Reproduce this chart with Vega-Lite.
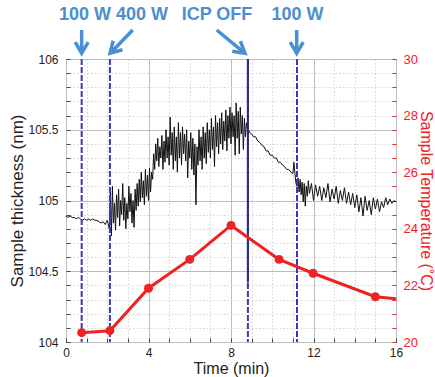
{
  "$schema": "https://vega.github.io/schema/vega-lite/v6.json",
  "width": 330,
  "height": 283,
  "autosize": "none",
  "padding": {"left": 66, "top": 59, "right": 39, "bottom": 35},
  "background": "white",
  "config": {
    "font": "Liberation Sans",
    "view": {"stroke": "#222222", "strokeWidth": 1},
    "axis": {"labelFont": "Liberation Sans", "titleFont": "Liberation Sans", "labelColor": "#222222", "titleColor": "#222222", "titleFontWeight": "normal", "labelFontSize": 12, "titleFontSize": 16, "labelOverlap": false}
  },
  "datasets": {
    "thick": [
      {"t": 0.0, "v": 104.89}, {"t": 0.1, "v": 104.88}, {"t": 0.2, "v": 104.89}, {"t": 0.3, "v": 104.88}, {"t": 0.4, "v": 104.88},
      {"t": 0.5, "v": 104.87}, {"t": 0.6, "v": 104.88}, {"t": 0.7, "v": 104.87}, {"t": 0.8, "v": 104.86}, {"t": 0.9, "v": 104.87},
      {"t": 1.0, "v": 104.86}, {"t": 1.1, "v": 104.87}, {"t": 1.2, "v": 104.86}, {"t": 1.3, "v": 104.87}, {"t": 1.4, "v": 104.86},
      {"t": 1.5, "v": 104.86}, {"t": 1.6, "v": 104.85}, {"t": 1.7, "v": 104.84}, {"t": 1.8, "v": 104.85}, {"t": 1.9, "v": 104.83},
      {"t": 2.0, "v": 104.86},
      {"t": 2.10, "v": 104.80}, {"t": 2.15, "v": 105.06}, {"t": 2.20, "v": 104.75}, {"t": 2.25, "v": 105.10}, {"t": 2.30, "v": 104.84},
      {"t": 2.35, "v": 104.98}, {"t": 2.40, "v": 104.79}, {"t": 2.45, "v": 105.04}, {"t": 2.50, "v": 104.88}, {"t": 2.55, "v": 105.08},
      {"t": 2.60, "v": 104.82}, {"t": 2.65, "v": 105.00}, {"t": 2.70, "v": 104.90}, {"t": 2.75, "v": 105.12}, {"t": 2.80, "v": 104.86},
      {"t": 2.85, "v": 105.02}, {"t": 2.90, "v": 104.80}, {"t": 2.95, "v": 104.98}, {"t": 3.00, "v": 104.87}, {"t": 3.05, "v": 105.10},
      {"t": 3.10, "v": 104.92}, {"t": 3.15, "v": 105.05}, {"t": 3.20, "v": 104.84}, {"t": 3.25, "v": 105.00}, {"t": 3.30, "v": 104.81},
      {"t": 3.35, "v": 105.08}, {"t": 3.40, "v": 104.93}, {"t": 3.45, "v": 105.12}, {"t": 3.50, "v": 104.96}, {"t": 3.55, "v": 105.15},
      {"t": 3.60, "v": 104.99}, {"t": 3.65, "v": 105.20}, {"t": 3.70, "v": 105.02}, {"t": 3.75, "v": 105.14}, {"t": 3.80, "v": 104.97},
      {"t": 3.85, "v": 105.22}, {"t": 3.90, "v": 105.03}, {"t": 3.95, "v": 105.18}, {"t": 4.00, "v": 105.00}, {"t": 4.05, "v": 105.23},
      {"t": 4.10, "v": 105.06}, {"t": 4.15, "v": 105.20}, {"t": 4.20, "v": 105.15}, {"t": 4.25, "v": 105.33}, {"t": 4.30, "v": 105.22},
      {"t": 4.35, "v": 105.40}, {"t": 4.40, "v": 105.28}, {"t": 4.45, "v": 105.44}, {"t": 4.50, "v": 105.24}, {"t": 4.55, "v": 105.38},
      {"t": 4.60, "v": 105.30}, {"t": 4.65, "v": 105.46}, {"t": 4.70, "v": 105.22}, {"t": 4.75, "v": 105.42}, {"t": 4.80, "v": 105.27},
      {"t": 4.85, "v": 105.50}, {"t": 4.90, "v": 105.30}, {"t": 4.95, "v": 105.45}, {"t": 5.00, "v": 105.25}, {"t": 5.05, "v": 105.59},
      {"t": 5.10, "v": 105.32}, {"t": 5.15, "v": 105.48}, {"t": 5.20, "v": 105.22}, {"t": 5.25, "v": 105.52}, {"t": 5.30, "v": 105.28},
      {"t": 5.35, "v": 105.45}, {"t": 5.40, "v": 105.20}, {"t": 5.45, "v": 105.55}, {"t": 5.50, "v": 105.30}, {"t": 5.55, "v": 105.48},
      {"t": 5.60, "v": 105.25}, {"t": 5.65, "v": 105.52}, {"t": 5.70, "v": 105.33}, {"t": 5.75, "v": 105.47}, {"t": 5.80, "v": 105.28},
      {"t": 5.85, "v": 105.50}, {"t": 5.90, "v": 105.16}, {"t": 5.95, "v": 105.42}, {"t": 6.00, "v": 105.30}, {"t": 6.05, "v": 105.48},
      {"t": 6.10, "v": 105.22}, {"t": 6.15, "v": 105.44}, {"t": 6.20, "v": 105.18}, {"t": 6.25, "v": 105.40}, {"t": 6.30, "v": 104.97},
      {"t": 6.35, "v": 105.38}, {"t": 6.40, "v": 105.25}, {"t": 6.45, "v": 105.50}, {"t": 6.50, "v": 105.28}, {"t": 6.55, "v": 105.45},
      {"t": 6.60, "v": 105.22}, {"t": 6.65, "v": 105.52}, {"t": 6.70, "v": 105.30}, {"t": 6.75, "v": 105.48}, {"t": 6.80, "v": 105.26},
      {"t": 6.85, "v": 105.55}, {"t": 6.90, "v": 105.34}, {"t": 6.95, "v": 105.50}, {"t": 7.00, "v": 105.30}, {"t": 7.05, "v": 105.58},
      {"t": 7.10, "v": 105.36}, {"t": 7.15, "v": 105.52}, {"t": 7.20, "v": 105.24}, {"t": 7.25, "v": 105.60}, {"t": 7.30, "v": 105.38},
      {"t": 7.35, "v": 105.55}, {"t": 7.40, "v": 105.33}, {"t": 7.45, "v": 105.58}, {"t": 7.50, "v": 105.40}, {"t": 7.55, "v": 105.62},
      {"t": 7.60, "v": 105.36}, {"t": 7.65, "v": 105.56}, {"t": 7.70, "v": 105.42}, {"t": 7.75, "v": 105.64}, {"t": 7.80, "v": 105.35},
      {"t": 7.85, "v": 105.60}, {"t": 7.90, "v": 105.44}, {"t": 7.95, "v": 105.66}, {"t": 8.00, "v": 105.40}, {"t": 8.05, "v": 105.62},
      {"t": 8.10, "v": 105.45}, {"t": 8.15, "v": 105.60}, {"t": 8.20, "v": 105.32}, {"t": 8.25, "v": 105.69}, {"t": 8.30, "v": 105.44},
      {"t": 8.35, "v": 105.63}, {"t": 8.40, "v": 105.33}, {"t": 8.45, "v": 105.66}, {"t": 8.50, "v": 105.47}, {"t": 8.55, "v": 105.60},
      {"t": 8.60, "v": 105.36}, {"t": 8.65, "v": 105.58}, {"t": 8.70, "v": 105.45}, {"t": 8.75, "v": 105.55}, {"t": 8.80, "v": 105.50},
      {"t": 8.85, "v": 105.50}, {"t": 8.9, "v": 105.48}, {"t": 9.0, "v": 105.47}, {"t": 9.1, "v": 105.45}, {"t": 9.2, "v": 105.45},
      {"t": 9.3, "v": 105.42}, {"t": 9.4, "v": 105.41}, {"t": 9.5, "v": 105.39}, {"t": 9.6, "v": 105.38}, {"t": 9.7, "v": 105.35},
      {"t": 9.8, "v": 105.35}, {"t": 9.9, "v": 105.32}, {"t": 10.0, "v": 105.32}, {"t": 10.1, "v": 105.30}, {"t": 10.2, "v": 105.30},
      {"t": 10.3, "v": 105.27}, {"t": 10.4, "v": 105.27}, {"t": 10.5, "v": 105.25}, {"t": 10.6, "v": 105.24}, {"t": 10.7, "v": 105.22},
      {"t": 10.8, "v": 105.22}, {"t": 10.9, "v": 105.20}, {"t": 11.0, "v": 105.19}, {"t": 11.05, "v": 105.27}, {"t": 11.1, "v": 105.19},
      {"t": 11.15, "v": 105.12},
      {"t": 11.2, "v": 105.10}, {"t": 11.25, "v": 105.16}, {"t": 11.3, "v": 105.06}, {"t": 11.35, "v": 105.15}, {"t": 11.4, "v": 105.04},
      {"t": 11.45, "v": 105.13}, {"t": 11.5, "v": 104.99}, {"t": 11.55, "v": 105.12}, {"t": 11.6, "v": 104.96}, {"t": 11.65, "v": 105.10},
      {"t": 11.7, "v": 105.03}, {"t": 11.75, "v": 105.14}, {"t": 11.8, "v": 105.05}, {"t": 11.9, "v": 105.12}, {"t": 12.0, "v": 105.00},
      {"t": 12.1, "v": 105.11}, {"t": 12.2, "v": 105.03}, {"t": 12.3, "v": 105.10}, {"t": 12.4, "v": 105.00}, {"t": 12.5, "v": 105.09},
      {"t": 12.6, "v": 105.02}, {"t": 12.7, "v": 105.12}, {"t": 12.8, "v": 104.99}, {"t": 12.9, "v": 105.08}, {"t": 13.0, "v": 105.01},
      {"t": 13.1, "v": 105.10}, {"t": 13.2, "v": 104.98}, {"t": 13.3, "v": 105.07}, {"t": 13.4, "v": 105.00}, {"t": 13.5, "v": 105.09},
      {"t": 13.6, "v": 104.98}, {"t": 13.7, "v": 105.06}, {"t": 13.8, "v": 104.97}, {"t": 13.9, "v": 105.05}, {"t": 14.0, "v": 104.95},
      {"t": 14.1, "v": 105.04}, {"t": 14.2, "v": 104.92}, {"t": 14.3, "v": 105.02}, {"t": 14.4, "v": 104.89}, {"t": 14.5, "v": 105.03},
      {"t": 14.6, "v": 104.93}, {"t": 14.7, "v": 105.00}, {"t": 14.8, "v": 104.90}, {"t": 14.9, "v": 105.02}, {"t": 15.0, "v": 104.94},
      {"t": 15.1, "v": 105.01}, {"t": 15.2, "v": 104.92}, {"t": 15.3, "v": 104.99}, {"t": 15.4, "v": 104.95}, {"t": 15.5, "v": 105.02},
      {"t": 15.6, "v": 104.97}, {"t": 15.7, "v": 105.01}, {"t": 15.8, "v": 104.98}, {"t": 15.9, "v": 105.00}, {"t": 16.0, "v": 104.99}
    ],
    "temp": [
      {"t": 0.76, "temp": 20.33, "dot": true},
      {"t": 2.13, "temp": 20.4, "dot": true},
      {"t": 4.0, "temp": 21.9, "dot": true},
      {"t": 6.0, "temp": 22.92, "dot": true},
      {"t": 8.0, "temp": 24.12, "dot": true},
      {"t": 10.33, "temp": 22.92, "dot": true},
      {"t": 11.98, "temp": 22.43, "dot": true},
      {"t": 15.0, "temp": 21.6, "dot": true},
      {"t": 16.0, "temp": 21.53, "dot": false}
    ],
    "events": [
      {"t": 0.76, "label": "100 W", "lt": 0.92},
      {"t": 2.13, "label": "400 W", "lt": 3.69},
      {"t": 8.82, "label": "ICP OFF", "lt": 7.32},
      {"t": 11.2, "label": "100 W", "lt": 11.22}
    ],
    "spike": [
      {"t": 8.82, "v": 104.42, "hi": 106.0}
    ],
    "arrows": [
      {"seg": "a1s", "k": 0, "t": 0.76, "v": 106.205}, {"seg": "a1s", "k": 1, "t": 0.76, "v": 106.045},
      {"seg": "a1h", "k": 0, "t": 0.446, "v": 106.12}, {"seg": "a1h", "k": 1, "t": 0.76, "v": 106.04}, {"seg": "a1h", "k": 2, "t": 1.076, "v": 106.12},
      {"seg": "a2s", "k": 0, "t": 3.234, "v": 106.205}, {"seg": "a2s", "k": 1, "t": 2.16, "v": 106.043},
      {"seg": "a2h", "k": 0, "t": 2.739, "v": 106.065}, {"seg": "a2h", "k": 1, "t": 2.133, "v": 106.04}, {"seg": "a2h", "k": 2, "t": 2.288, "v": 106.129},
      {"seg": "a3s", "k": 0, "t": 7.307, "v": 106.205}, {"seg": "a3s", "k": 1, "t": 8.65, "v": 106.043},
      {"seg": "a3h", "k": 0, "t": 8.456, "v": 106.126}, {"seg": "a3h", "k": 1, "t": 8.679, "v": 106.04}, {"seg": "a3h", "k": 2, "t": 8.058, "v": 106.055},
      {"seg": "a4s", "k": 0, "t": 11.185, "v": 106.205}, {"seg": "a4s", "k": 1, "t": 11.185, "v": 106.045},
      {"seg": "a4h", "k": 0, "t": 10.87, "v": 106.12}, {"seg": "a4h", "k": 1, "t": 11.185, "v": 106.04}, {"seg": "a4h", "k": 2, "t": 11.5, "v": 106.12}
    ]
  },
  "layer": [
    {
      "layer": [
        {
          "data": {"name": "thick"},
          "mark": {"type": "line", "color": "#111111", "strokeWidth": 1},
          "encoding": {
            "x": {
              "field": "t", "type": "quantitative",
              "scale": {"domain": [0, 16], "nice": false},
              "axis": {
                "title": "Time (min)",
                "values": [0, 1, 2, 3, 4, 5, 6, 7, 8, 9, 10, 11, 12, 13, 14, 15, 16],
                "tickCount": 100,
                "labelExpr": "datum.value % 4 === 0 ? toString(datum.value) : ''",
                "labelOverlap": false,
                "grid": true,
                "gridColor": {"condition": {"test": "datum.value % 4 === 0", "value": "#bdbdbd"}, "value": "#d4d4d4"},
                "gridDash": {"condition": {"test": "datum.value % 4 === 0", "value": []}, "value": [1.5, 2]},
                "gridWidth": 1,
                "domain": false,
                "tickSize": -4,
                "tickColor": "#444444",
                "labelPadding": 9,
                "labelFlush": false,
                "titlePadding": 2
              }
            },
            "y": {
              "field": "v", "type": "quantitative",
              "scale": {"domain": [104, 106], "nice": false, "zero": false},
              "axis": {
                "title": "Sample thickness (nm)",
                "titleFontSize": 17,
                "values": [104, 104.1, 104.2, 104.3, 104.4, 104.5, 104.6, 104.7, 104.8, 104.9, 105, 105.1, 105.2, 105.3, 105.4, 105.5, 105.6, 105.7, 105.8, 105.9, 106],
                "tickCount": 100,
                "labelExpr": "(abs(datum.value*2 - round(datum.value*2)) < 0.01) ? toString(round(datum.value*2)/2) : ''",
                "labelOverlap": false,
                "grid": true,
                "gridColor": {"condition": {"test": "abs(datum.value*2 - round(datum.value*2)) < 0.01", "value": "#bdbdbd"}, "value": "#d4d4d4"},
                "gridDash": {"condition": {"test": "abs(datum.value*2 - round(datum.value*2)) < 0.01", "value": []}, "value": [1.5, 2]},
                "domain": false,
                "tickSize": -4,
                "tickColor": "#444444",
                "labelPadding": 12,
                "labelFlush": false,
                "titlePadding": 1
              }
            }
          }
        },
        {
          "data": {"name": "events"},
          "mark": {"type": "rule", "color": "#3a3ab8", "strokeWidth": 2, "strokeDash": [6, 2]},
          "encoding": {
            "x": {"field": "t", "type": "quantitative", "scale": {"domain": [0, 16], "nice": false}}
          }
        },
        {
          "data": {"name": "spike"},
          "mark": {"type": "rule", "color": "#2a2a80", "strokeWidth": 2},
          "encoding": {
            "x": {"field": "t", "type": "quantitative", "scale": {"domain": [0, 16], "nice": false}},
            "y": {"field": "v", "type": "quantitative", "scale": {"domain": [104, 106], "nice": false, "zero": false}},
            "y2": {"field": "hi"}
          }
        },
        {
          "data": {"name": "arrows"},
          "mark": {"type": "line", "color": "#4a8fd0", "strokeWidth": 3.5, "strokeJoin": "miter", "strokeCap": "butt"},
          "encoding": {
            "x": {"field": "t", "type": "quantitative", "scale": {"domain": [0, 16], "nice": false}},
            "y": {"field": "v", "type": "quantitative", "scale": {"domain": [104, 106], "nice": false, "zero": false}},
            "detail": {"field": "seg"},
            "order": {"field": "k"}
          }
        },
        {
          "data": {"name": "events"},
          "mark": {"type": "text", "color": "#4a8fd0", "fontSize": 18, "fontWeight": "bold", "font": "Liberation Sans", "align": "center", "baseline": "middle", "y": -44},
          "encoding": {
            "x": {"field": "lt", "type": "quantitative", "scale": {"domain": [0, 16], "nice": false}},
            "text": {"field": "label"}
          }
        }
      ]
    },
    {
      "layer": [
        {
          "data": {"name": "temp"},
          "mark": {"type": "line", "color": "#ee2222", "strokeWidth": 3},
          "encoding": {
            "x": {"field": "t", "type": "quantitative", "scale": {"domain": [0, 16], "nice": false}},
            "y": {
              "field": "temp", "type": "quantitative",
              "scale": {"domain": [20, 30], "nice": false, "zero": false},
              "axis": {
                "orient": "right",
                "title": "Sample Temperature (˚C)",
                "titleColor": "#ee2222",
                "titleFontSize": 16,
                "labelColor": "#ee2222",
                "labelFontSize": 13,
                "values": [20, 20.5, 21, 21.5, 22, 22.5, 23, 23.5, 24, 24.5, 25, 25.5, 26, 26.5, 27, 27.5, 28, 28.5, 29, 29.5, 30],
                "tickCount": 100,
                "labelExpr": "datum.value % 2 === 0 ? toString(datum.value) : ''",
                "labelOverlap": false,
                "grid": false,
                "domain": false,
                "tickSize": -4,
                "tickColor": "#ee2222",
                "labelPadding": 11,
                "labelFlush": false,
                "titlePadding": 0
              }
            }
          }
        },
        {
          "data": {"name": "temp"},
          "transform": [{"filter": "datum.dot"}],
          "mark": {"type": "point", "filled": true, "color": "#ee2222", "size": 80, "opacity": 1},
          "encoding": {
            "x": {"field": "t", "type": "quantitative", "scale": {"domain": [0, 16], "nice": false}},
            "y": {"field": "temp", "type": "quantitative", "scale": {"domain": [20, 30], "nice": false, "zero": false}}
          }
        }
      ]
    }
  ],
  "resolve": {"scale": {"y": "independent"}}
}
